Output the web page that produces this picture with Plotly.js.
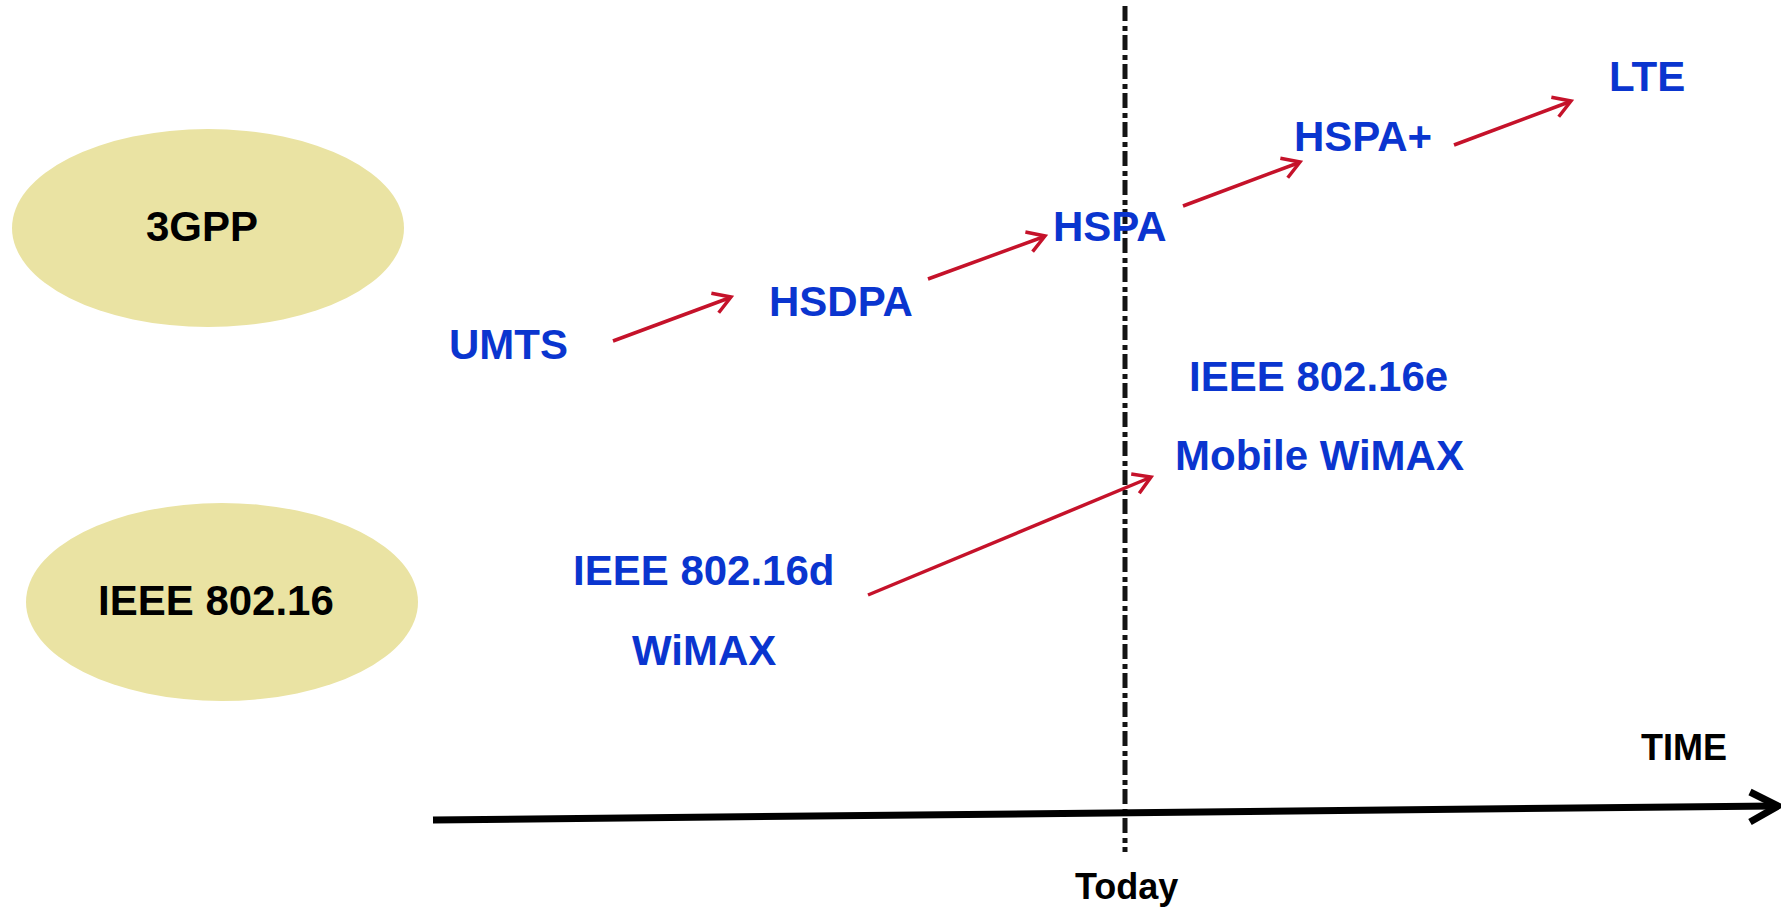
<!DOCTYPE html>
<html>
<head>
<meta charset="utf-8">
<script src="https://cdn.plot.ly/plotly-3.0.1.min.js"></script>
<style>html,body{margin:0;padding:0;background:#fff;}#chart{width:1781px;height:908px;}</style>
</head>
<body>
<div id="chart"></div>
<script>
// ---- data ----
const groupLabels = ['3GPP', 'IEEE 802.16'];
const groupCx = [208, 222];
const groupCy = [228, 602];

const techLabels = ['UMTS', 'HSDPA', 'HSPA', 'HSPA+', 'LTE', 'IEEE 802.16e', 'Mobile WiMAX', 'IEEE 802.16d', 'WiMAX'];
const techX = [508, 841, 1110, 1363, 1647, 1318, 1319, 704, 704];
const techY = [344, 301, 226, 136, 76, 376, 455, 570, 650];

const arrowFromX = [613, 928, 1183, 1454, 868];
const arrowFromY = [341, 279, 206, 145, 595];
const arrowToX = [731, 1045, 1300, 1571, 1151];
const arrowToY = [297, 236, 162, 101, 477];

const timeAxisLabel = 'TIME';
const todayLabel = 'Today';
const todayX = 1125;

// ---- styles ----
const FONT = 'Liberation Sans, Arial, Helvetica, sans-serif';
const BLUE = '#0A35CF';
const RED = '#C5122A';
const ELL = '#EAE3A3';

const shapes = [];
const annotations = [];

// group ellipses
groupLabels.forEach((g, i) => {
  shapes.push({type: 'circle', xref: 'x', yref: 'y',
    x0: groupCx[i] - 196, x1: groupCx[i] + 196, y0: groupCy[i] - 99, y1: groupCy[i] + 99,
    fillcolor: ELL, line: {width: 0}, layer: 'below'});
  annotations.push({x: groupCx[i] - 6, y: groupCy[i] - 2, xref: 'x', yref: 'y', text: '<b>' + g + '</b>',
    showarrow: false, font: {family: FONT, size: 42, color: '#000'}});
});

// tech labels
techLabels.forEach((t, i) => {
  annotations.push({x: techX[i], y: techY[i], xref: 'x', yref: 'y', text: '<b>' + t + '</b>',
    showarrow: false, font: {family: FONT, size: 42, color: BLUE}});
});

// today line
shapes.push({type: 'line', xref: 'x', yref: 'y', x0: todayX, x1: todayX, y0: 6, y1: 852,
  line: {color: '#141414', width: 5, dash: '15px,5px,5px,4px'}});

// time axis
const tx0 = 433, ty0 = 820, tx1 = 1778, ty1 = 806;
shapes.push({type: 'line', xref: 'x', yref: 'y', x0: tx0, y0: ty0, x1: tx1 - 3, y1: ty1,
  line: {color: '#000', width: 7}});
shapes.push({type: 'path', xref: 'x', yref: 'y',
  path: `M ${tx1 - 28} ${ty1 - 14} L ${tx1} ${ty1} L ${tx1 - 28} ${ty1 + 16}`,
  line: {color: '#000', width: 7}});

// red arrows with open chevron heads
arrowFromX.forEach((fx, i) => {
  const fy = arrowFromY[i], ex = arrowToX[i], ey = arrowToY[i];
  shapes.push({type: 'line', xref: 'x', yref: 'y', x0: fx, y0: fy, x1: ex - 2, y1: ey + 1,
    line: {color: RED, width: 3.5}});
  const ang = Math.atan2(ey - fy, ex - fx);
  const L = 20, spread = 0.55;
  const a1 = ang + Math.PI - spread, a2 = ang + Math.PI + spread;
  shapes.push({type: 'path', xref: 'x', yref: 'y',
    path: `M ${ex + L * Math.cos(a1)} ${ey + L * Math.sin(a1)} L ${ex} ${ey} L ${ex + L * Math.cos(a2)} ${ey + L * Math.sin(a2)}`,
    line: {color: RED, width: 3.5}});
});

annotations.push({x: 1684, y: 747, xref: 'x', yref: 'y', text: '<b>' + timeAxisLabel + '</b>',
  showarrow: false, font: {family: FONT, size: 36, color: '#000'}});
annotations.push({x: 1126, y: 886, xref: 'x', yref: 'y', text: '<b>' + todayLabel + '</b>',
  showarrow: false, font: {family: FONT, size: 36, color: '#000'}});

const layout = {
  width: 1781, height: 908,
  margin: {l: 0, r: 0, t: 0, b: 0},
  paper_bgcolor: '#fff', plot_bgcolor: '#fff',
  xaxis: {range: [0, 1781], visible: false, fixedrange: true},
  yaxis: {range: [908, 0], visible: false, fixedrange: true},
  showlegend: false,
  shapes: shapes,
  annotations: annotations
};

Plotly.newPlot('chart', [{x: [], y: [], type: 'scatter', mode: 'markers', hoverinfo: 'skip'}], layout, {displayModeBar: false, staticPlot: true});
</script>
</body>
</html>
